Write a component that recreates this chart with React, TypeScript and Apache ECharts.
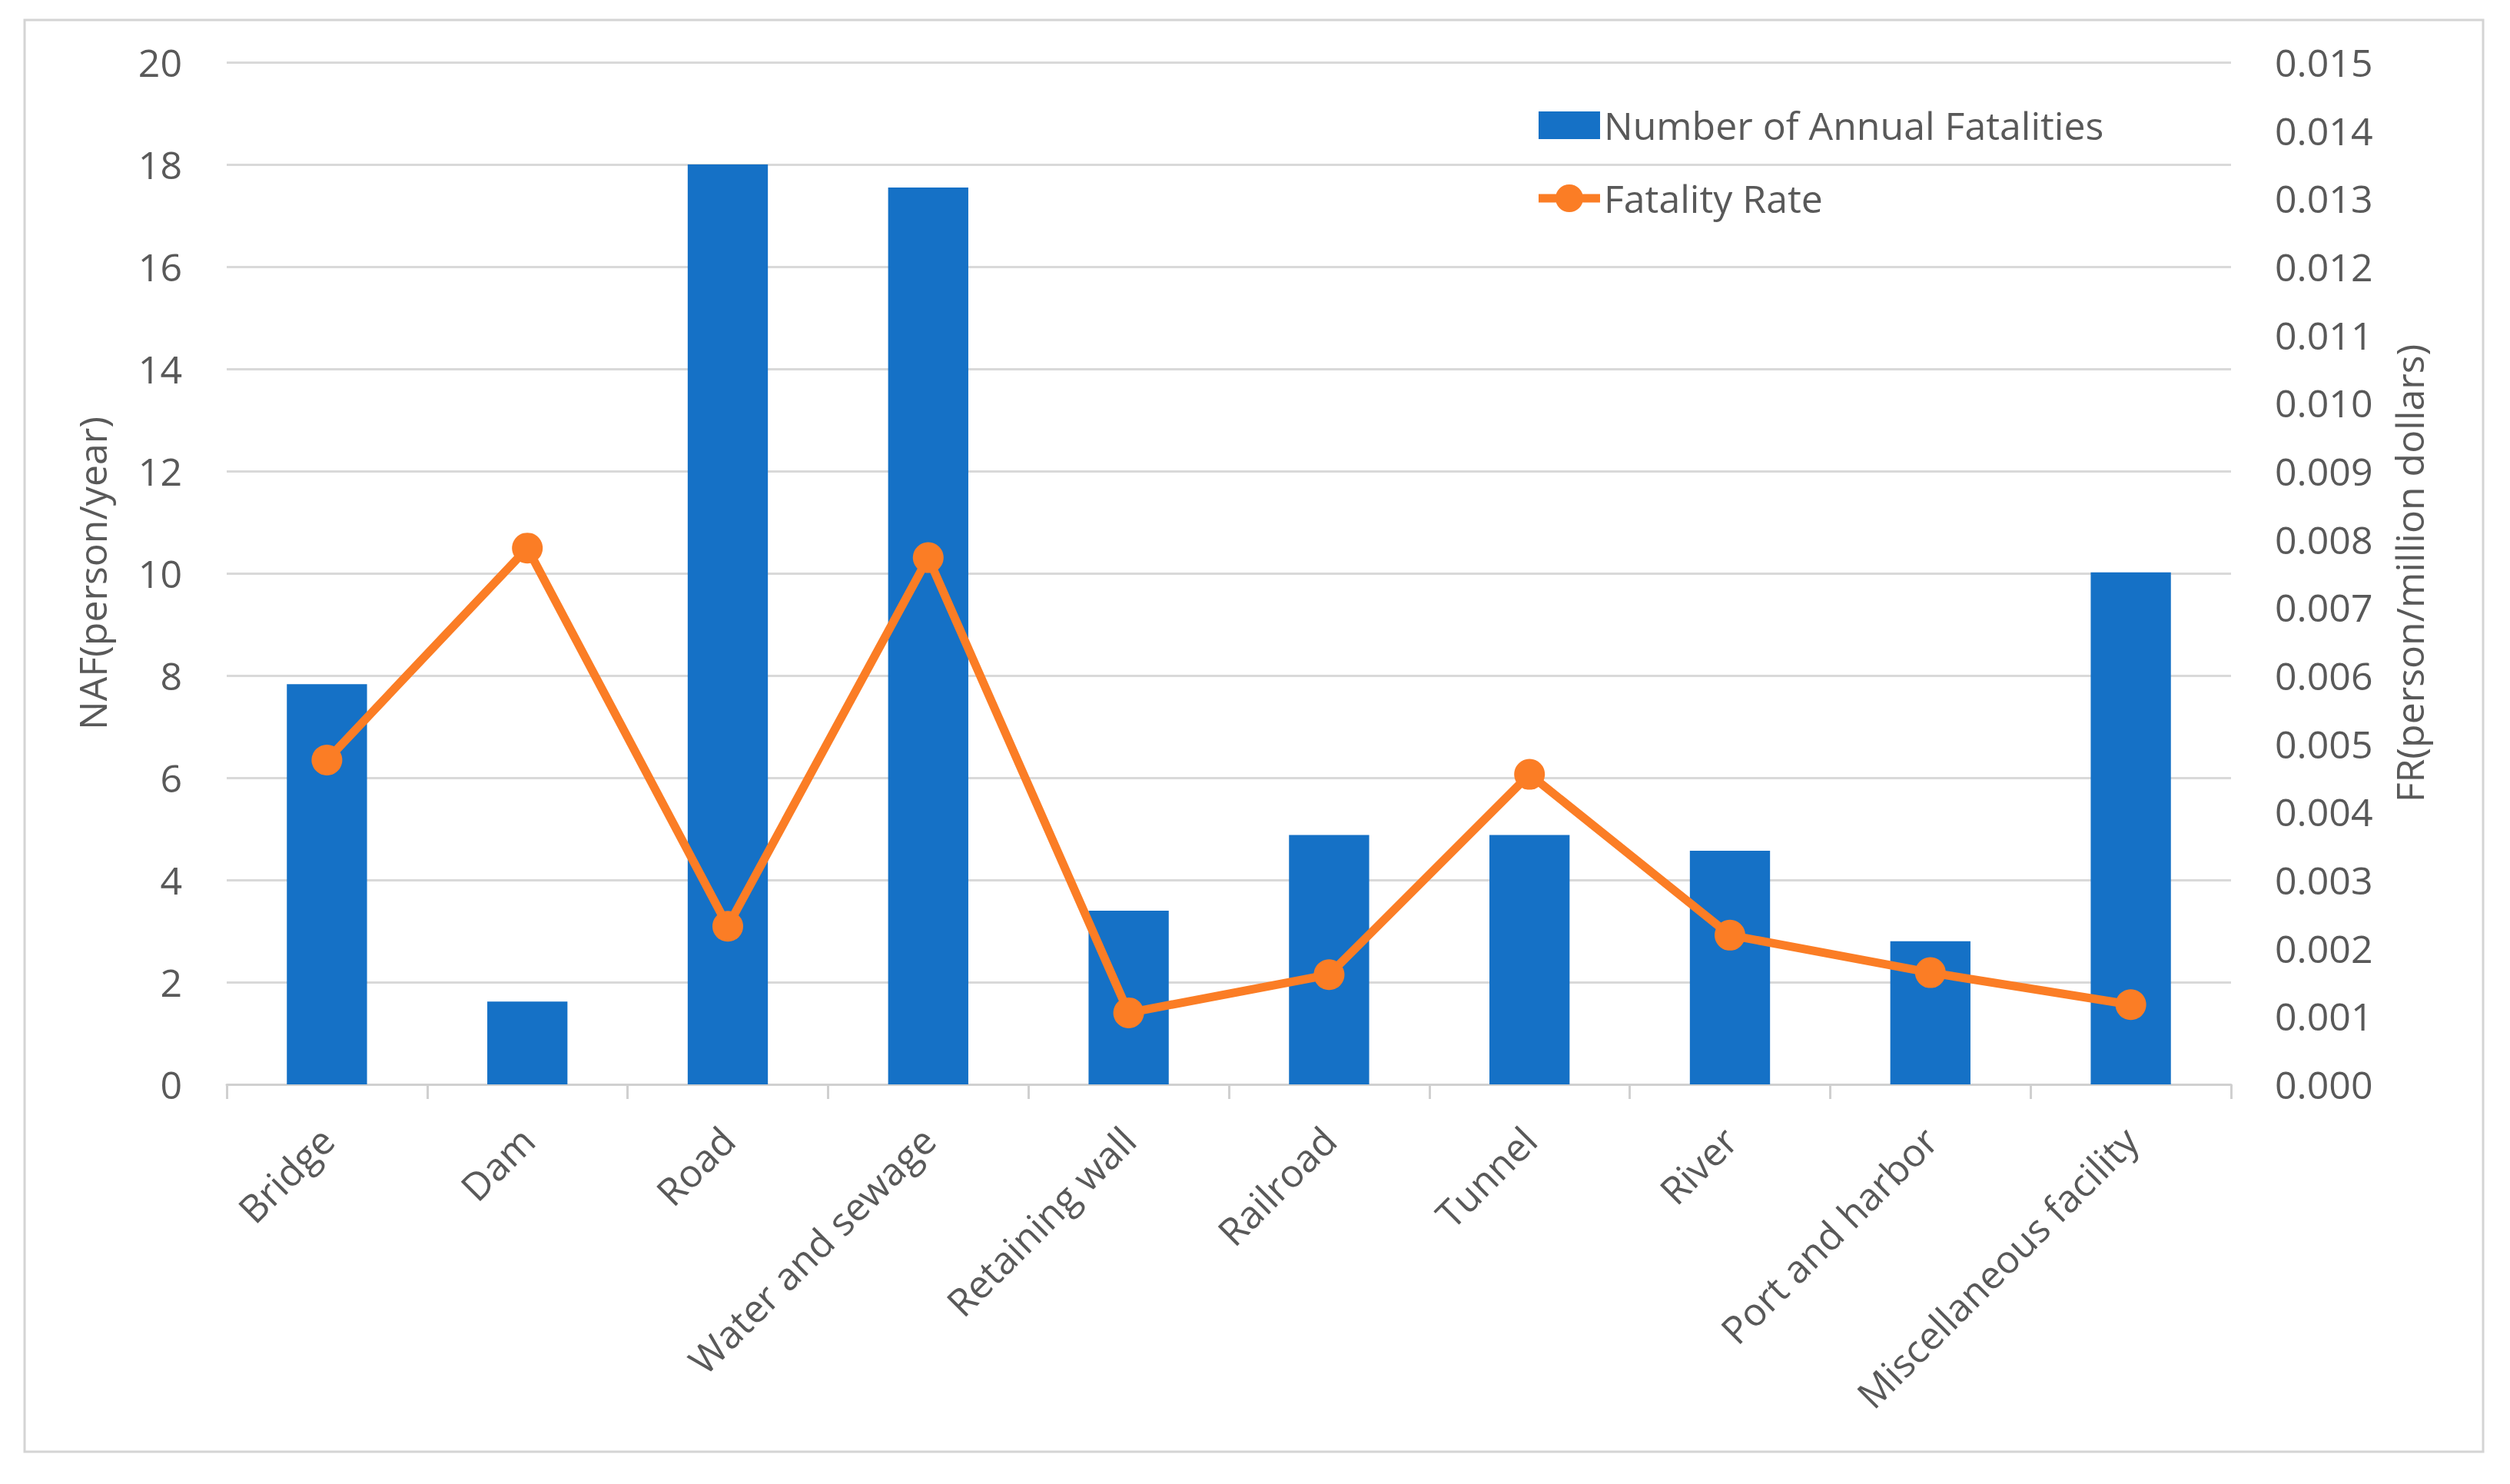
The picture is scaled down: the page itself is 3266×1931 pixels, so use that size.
import React, { useEffect, useRef } from "react";
import * as echarts from "echarts";

const categories = [
  "Bridge",
  "Dam",
  "Road",
  "Water and sewage",
  "Retaining wall",
  "Railroad",
  "Tunnel",
  "River",
  "Port and harbor",
  "Miscellaneous facility",
];
const annualFatalities = [7.83, 1.62, 18.0, 17.55, 3.4, 4.88, 4.88, 4.57, 2.8, 10.02];
const fatalityRate = [0.00476, 0.00787, 0.00232, 0.00773, 0.00105, 0.00161, 0.00455, 0.00219, 0.00164, 0.00117];

const leftMin = 0;
const leftMax = 20;
const leftInterval = 2;
const rightMin = 0;
const rightMax = 0.015;
const rightInterval = 0.001;

const BLUE = "#1571C6";
const ORANGE = "#FB7D25";
const TEXT = "#595959";
const FONT = "Open Sans";

const LINE_ICON = "path://M0,12.5L80,12.5L80,23.5L0,23.5Z M58,18A18,18 0 1 1 22,18A18,18 0 1 1 58,18Z";

export default function App() {
  const ref = useRef<HTMLDivElement>(null);
  useEffect(() => {
    if (!ref.current) return;
    const chart = echarts.init(ref.current, undefined, { renderer: "svg" });
    chart.setOption({
      animation: false,
      backgroundColor: "#ffffff",
      textStyle: { fontFamily: FONT, color: TEXT },
      graphic: [
        {
          type: "rect",
          shape: { x: 32, y: 26, width: 3199, height: 1863 },
          style: { fill: "none", stroke: "#D4D4D4", lineWidth: 3 },
          silent: true,
          z: -10,
        },
      ],
      legend: {
        orient: "vertical",
        left: 1997,
        top: 133,
        itemWidth: 80,
        itemHeight: 36,
        itemGap: 45,
        textStyle: { fontSize: 50, color: TEXT, fontFamily: FONT, lineHeight: 50 },
        data: [
          { name: "Number of Annual Fatalities", icon: "rect" },
          { name: "Fatality Rate", icon: LINE_ICON },
        ],
      },
      grid: { left: 295, right: 363, top: 81, bottom: 520, containLabel: false },
      xAxis: {
        type: "category",
        data: categories,
        axisLine: { lineStyle: { color: "#D0D0D0", width: 3 } },
        axisTick: { show: true, length: 19, lineStyle: { color: "#D0D0D0", width: 3 } },
        axisLabel: {
          rotate: 45,
          fontSize: 50,
          color: TEXT,
          fontFamily: FONT,
          margin: 64,
          interval: 0,
        },
      },
      yAxis: [
        {
          type: "value",
          min: leftMin,
          max: leftMax,
          interval: leftInterval,
          name: "NAF(person/year)",
          nameLocation: "middle",
          nameRotate: 90,
          nameGap: 150,
          nameTextStyle: { fontSize: 50, color: TEXT, fontFamily: FONT },
          axisLine: { show: false },
          axisTick: { show: false },
          axisLabel: { fontSize: 50, color: TEXT, fontFamily: FONT, margin: 58 },
          splitLine: { lineStyle: { color: "#D9D9D9", width: 3 } },
        },
        {
          type: "value",
          min: rightMin,
          max: rightMax,
          interval: rightInterval,
          position: "right",
          name: "FR(person/million dollars)",
          nameLocation: "middle",
          nameRotate: 90,
          nameGap: 207,
          nameTextStyle: { fontSize: 50, color: TEXT, fontFamily: FONT },
          axisLine: { show: false },
          axisTick: { show: false },
          axisLabel: {
            fontSize: 50,
            color: TEXT,
            fontFamily: FONT,
            margin: 57,
            formatter: (v: number) => v.toFixed(3),
          },
          splitLine: { show: false },
        },
      ],
      series: [
        {
          name: "Number of Annual Fatalities",
          type: "bar",
          data: annualFatalities,
          yAxisIndex: 0,
          barWidth: "40%",
          itemStyle: { color: BLUE },
        },
        {
          name: "Fatality Rate",
          type: "line",
          data: fatalityRate,
          yAxisIndex: 1,
          symbol: "circle",
          symbolSize: 40,
          lineStyle: { color: ORANGE, width: 11 },
          itemStyle: { color: ORANGE },
          z: 3,
        },
      ],
    });
    return () => chart.dispose();
  }, []);
  return (
    <div
      ref={ref}
      style={{ position: "absolute", left: 0, top: 0, width: 3266, height: 1931 }}
    />
  );
}
